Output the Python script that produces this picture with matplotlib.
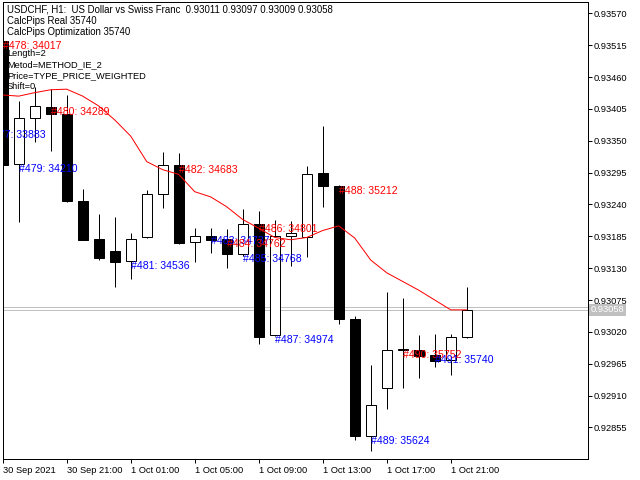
import numpy as np
import pandas as pd
from matplotlib import pyplot as plt

plt.rcParams['font.family'] = ['Liberation Sans', 'DejaVu Sans']

# hourly bars USDCHF H1, first one is off-screen on the left
times = pd.date_range('2021-09-30 16:00', periods=31, freq='h')
opens = [0.93369, 0.93522, 0.93309, 0.93389, 0.93408, 0.93396, 0.93246, 0.93181,
         0.93160, 0.93143, 0.93184, 0.93258, 0.93308, 0.93175, 0.93185, 0.93181,
         0.93154, 0.93206, 0.93014, 0.93185, 0.93183, 0.93294, 0.93272, 0.93042,
         0.92840, 0.92923, 0.92989, 0.92989, 0.92980, 0.92971, 0.93011]
highs = [0.93540, 0.93530, 0.93419, 0.93443, 0.93439, 0.93429, 0.93266, 0.93224,
         0.93219, 0.93190, 0.93265, 0.93330, 0.93328, 0.93199, 0.93199, 0.93197,
         0.93232, 0.93229, 0.93213, 0.93212, 0.93307, 0.93376, 0.93274, 0.93048,
         0.92963, 0.93089, 0.93078, 0.93015, 0.93016, 0.93016, 0.93097]
lows = [0.93350, 0.93300, 0.93210, 0.93348, 0.93333, 0.93245, 0.93178, 0.93144,
        0.93098, 0.93111, 0.93182, 0.93234, 0.93172, 0.93141, 0.93156, 0.93130,
        0.93151, 0.92999, 0.93013, 0.93133, 0.93150, 0.93235, 0.93034, 0.92834,
        0.92815, 0.92886, 0.92923, 0.92941, 0.92960, 0.92945, 0.93009]
closes = [0.93522, 0.93308, 0.93389, 0.93410, 0.93396, 0.93246, 0.93179, 0.93148,
          0.93141, 0.93181, 0.93258, 0.93308, 0.93174, 0.93185, 0.93178, 0.93154,
          0.93206, 0.93012, 0.93186, 0.93190, 0.93292, 0.93271, 0.93043, 0.92841,
          0.92894, 0.92989, 0.92990, 0.92979, 0.92969, 0.93011, 0.93058]
ma = [np.nan, 0.93429, 0.93427, 0.93433, 0.93438, 0.93439, 0.93427, 0.93410,
      0.93386, 0.93358, 0.93314, 0.93300, 0.93292, 0.93262, 0.93253, 0.93236,
      0.93214, 0.93199, 0.93183, 0.93179, 0.93183, 0.93195, 0.93203, 0.93182,
      0.93144, 0.93122, 0.93107, 0.93092, 0.93075, 0.93058, 0.93058]

# pips labels: bar index, number, value
label_bar = [0, 1, 2, 4, 9, 12, 14, 15, 16, 17, 18, 22, 24, 26, 28]
label_num = [477, 478, 479, 480, 481, 482, 483, 484, 485, 486, 487, 488, 489, 490, 491]
label_val = [33883, 34017, 34210, 34289, 34536, 34683, 34737, 34762, 34768, 34801,
             34974, 35212, 35624, 35752, 35740]

bid = 0.93058
ask = 0.93063
yticks = [0.93570, 0.93515, 0.93460, 0.93405, 0.93350, 0.93295, 0.93240, 0.93185,
          0.93130, 0.93075, 0.93020, 0.92965, 0.92910, 0.92855]

header = ['USDCHF, H1:  US Dollar vs Swiss Franc  0.93011 0.93097 0.93009 0.93058',
          'CalcPips Real 35740',
          'CalcPips Optimization 35740']
params = ['Length=2', 'Metod=METHOD_IE_2', 'Price=TYPE_PRICE_WEIGHTED', 'Shift=0']

x = np.arange(len(times)) - 1
o = np.array(opens)
c = np.array(closes)
px = 0.72  # one pixel in points

fig = plt.figure(figsize=(6.4, 4.8), dpi=100)
ax = fig.add_axes([2.7 / 640, 1 - 459.3 / 480, 585 / 640, 457 / 480])

ax.axhline(ask, color='#c0c0c0', lw=px, zorder=1)
ax.axhline(bid, color='#c0c0c0', lw=px, zorder=1)

ax.vlines(x, lows, highs, color='black', lw=px, zorder=2)
up = c >= o
ax.bar(x, np.maximum(np.abs(c - o), 0.000005), bottom=np.minimum(o, c), width=0.64,
       color=np.where(up, 'white', 'black'), edgecolor='black', linewidth=px, zorder=3)

ax.plot(x, ma, color='red', lw=px, zorder=4)

for b, n, v in zip(label_bar, label_num, label_val):
    col = 'red' if n % 2 == 0 else 'blue'
    ax.text(x[b], opens[b], '#%d: %d' % (n, v), color=col, fontsize=7.6,
            ha='left', va='top', zorder=5, clip_on=True)

ax.set_xlim(0, 36.56)
ax.set_ylim(0.92800, 0.93589)

tick_bars = [i for i in range(len(times)) if x[i] >= 0 and times[i].hour % 4 == 1]
tick_lab = []
for i in tick_bars:
    t = times[i]
    if i == tick_bars[0]:
        tick_lab.append(t.strftime('%d %b %Y'))
    else:
        tick_lab.append('%d %s' % (t.day, t.strftime('%b %H:%M')))
ax.set_xticks(x[tick_bars])
ax.set_xticklabels(tick_lab, ha='left', fontsize=6.7)
ax.yaxis.tick_right()
ax.set_yticks(yticks)
ax.set_yticklabels(['%.5f' % v for v in yticks], fontsize=6.7)
ax.tick_params(axis='x', length=3, width=px, pad=1.5)
ax.tick_params(axis='y', length=3, width=px, pad=1.5)
for s in ax.spines.values():
    s.set_linewidth(px)

ax.text(1.005, bid, '%.5f' % bid, transform=ax.get_yaxis_transform(), color='white',
        fontsize=6.7, ha='left', va='center', zorder=6,
        bbox=dict(boxstyle='square,pad=0.15', facecolor='#c0c0c0', edgecolor='none'))

for k, line in enumerate(header):
    fig.text(7 / 640, 1 - (9.3 + 11.2 * k) / 480, line, fontsize=6.9, va='center')
for k, line in enumerate(params):
    fig.text(7 / 640, 1 - (53.3 + 11 * k) / 480, line, fontsize=6.7, va='center')

fig.savefig('out.png', dpi=100)
